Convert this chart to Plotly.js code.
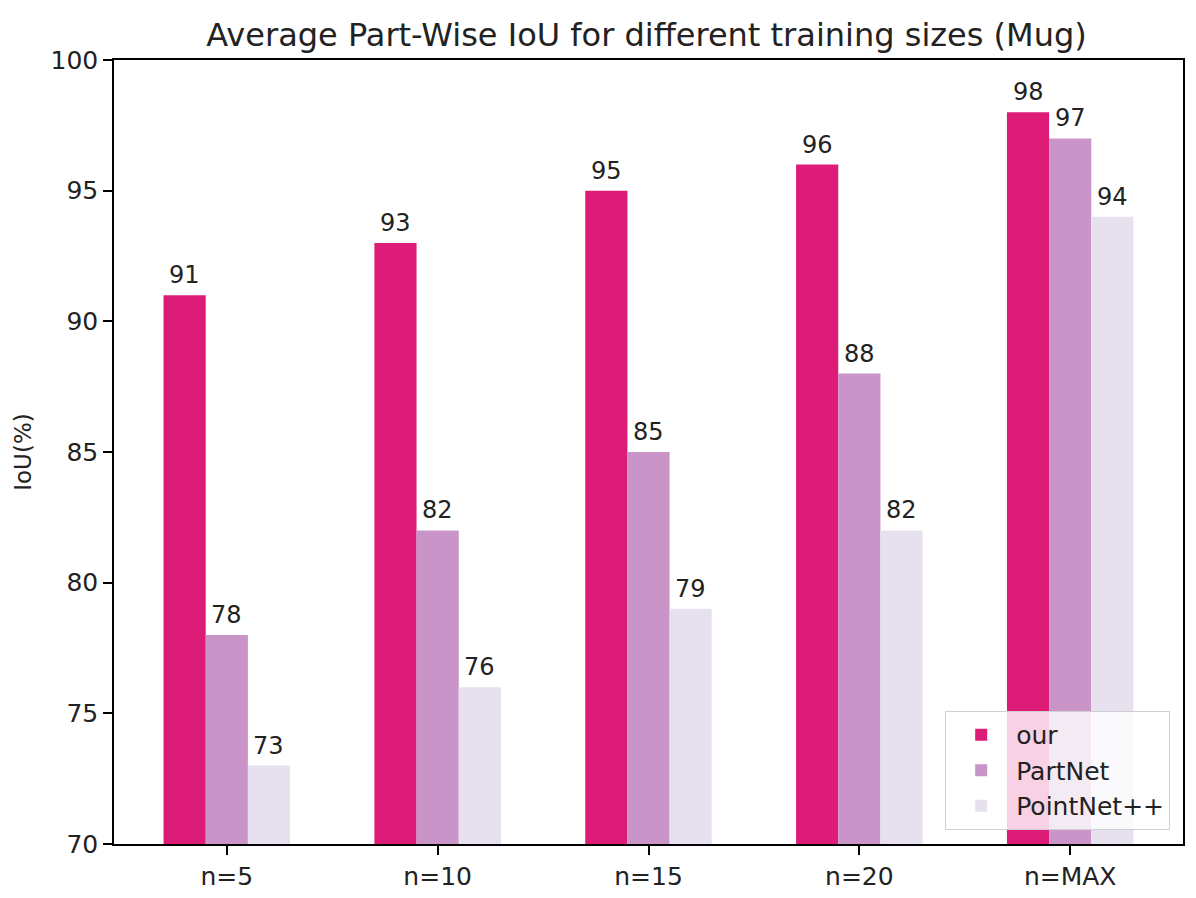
<!DOCTYPE html>
<html>
<head>
<meta charset="utf-8">
<script src="https://cdn.plot.ly/plotly-3.0.1.min.js"></script>
<style>html,body{margin:0;padding:0;background:#fff}#chart{width:1196px;height:898px}</style>
</head>
<body>
<div id="chart"></div>
<script>
const categories = ['n=5', 'n=10', 'n=15', 'n=20', 'n=MAX'];
const ourVals = [91, 93, 95, 96, 98];
const partNetVals = [78, 82, 85, 88, 97];
const pointNetVals = [73, 76, 79, 82, 94];
const yTicks = [70, 75, 80, 85, 90, 95, 100];

const fam = 'DejaVu Sans, sans-serif';
const ink = '#222';

const groups = [
  { name: 'our', vals: ourVals, color: '#dd1c77', off: -0.2 },
  { name: 'PartNet', vals: partNetVals, color: '#c994c7', off: 0 },
  { name: 'PointNet++', vals: pointNetVals, color: '#e7e1ef', off: 0.2 }
];

const traces = groups.map(g => ({
  type: 'bar', name: g.name, x: categories, y: g.vals,
  marker: { color: g.color, line: { width: 0 } },
  hoverinfo: 'x+y+name'
}));

// value labels above each bar
const annotations = [];
groups.forEach(g => {
  g.vals.forEach((v, i) => {
    annotations.push({
      x: i + g.off, y: v, xref: 'x', yref: 'y',
      text: String(v), showarrow: false,
      xanchor: 'center', yanchor: 'bottom', yshift: 4,
      font: { family: fam, size: 24, color: ink }
    });
  });
});

const layout = {
  width: 1196, height: 898,
  margin: { l: 114, r: 13, t: 60, b: 54 },
  paper_bgcolor: '#fff', plot_bgcolor: '#fff',
  font: { family: fam, color: ink },
  title: { text: 'Average Part-Wise IoU for different training sizes (Mug)', font: { size: 32, family: fam, color: ink }, x: 0.5406, xanchor: 'center', y: 0.961, yanchor: 'middle' },
  barmode: 'group', bargap: 0.4, bargroupgap: 0,
  xaxis: {
    type: 'category', range: [-0.535, 4.535],
    showline: true, linecolor: '#000', linewidth: 1.5, mirror: true,
    ticks: 'outside', ticklen: 9, tickcolor: '#000', tickwidth: 1.5,
    tickfont: { size: 25, family: fam, color: ink },
    showgrid: false, zeroline: false
  },
  yaxis: {
    range: [70, 100], tickvals: yTicks,
    showline: true, linecolor: '#000', linewidth: 1.5, mirror: true,
    ticks: 'outside', ticklen: 9, tickcolor: '#000', tickwidth: 1.5,
    tickfont: { size: 25, family: fam, color: ink },
    showgrid: false, zeroline: false,
    title: { text: 'IoU(%)', font: { size: 23, family: fam, color: ink }, standoff: 12 }
  },
  legend: {
    x: 0.988, y: 0.018, xanchor: 'right', yanchor: 'bottom',
    bgcolor: 'rgba(255,255,255,0.8)', bordercolor: '#d0d0d0', borderwidth: 1,
    font: { size: 25, family: fam, color: ink },
    itemwidth: 60
  },
  annotations: annotations,
  showlegend: true
};

Plotly.newPlot('chart', traces, layout, { displayModeBar: false, responsive: false });
</script>
</body>
</html>
